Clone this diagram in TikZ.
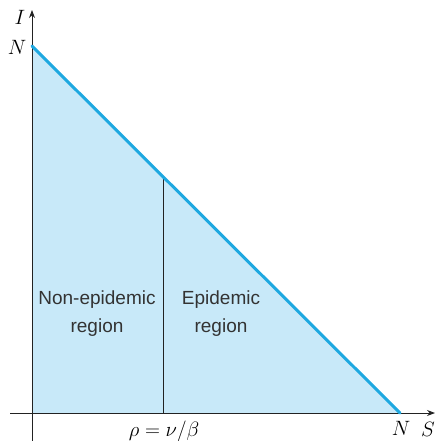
\documentclass[tikz,border=0pt]{standalone}
\usepackage{fontspec}
\setsansfont{Liberation Sans}
\usetikzlibrary{arrows.meta}
\definecolor{lineblue}{HTML}{1EA8E0}
\definecolor{fillblue}{HTML}{C8E9F9}
\definecolor{axisgray}{HTML}{222222}
\tikzset{
  axis/.style={draw=axisgray, line width=0.9pt, -{Stealth[length=8pt,width=6pt]}},
  hyp/.style={draw=lineblue, line width=3pt},
  divider/.style={draw=axisgray, line width=1pt},
  lab/.style={font=\fontsize{22}{26}\selectfont, inner sep=0pt},
  region/.style={font=\sffamily\fontsize{19}{28}\selectfont, align=center, text=black!80, inner sep=0pt}
}
\begin{document}
\begin{tikzpicture}[x=1pt,y=-1pt]
\useasboundingbox (0,0) rectangle (438,441);
\coordinate (top) at (32,46);
\coordinate (right) at (400,413);
\coordinate (orig) at (32,413);
\coordinate (divtop) at (163,177);
\coordinate (divbot) at (163,413);
\fill[fillblue] (top) -- (right) -- (orig) -- cycle;
\draw[divider] (divtop) -- (divbot);
\coordinate (ybot) at (32,441);
\coordinate (ytop) at (32,10);
\coordinate (xleft) at (10,413);
\coordinate (xright) at (435,413);
\draw[axis] (ybot) -- (ytop);
\draw[axis] (xleft) -- (xright);
\draw[hyp, line cap=round] (top) -- (right);
\node[lab] (Ilab) at (20,17) {$I$};
\node[lab] (Ny) at (17,47) {$N$};
\node[lab] (Nx) at (401,428) {$N$};
\node[lab] (Slab) at (428,429) {$S$};
\node[lab] (rho) at (164,431) {$\rho = \nu/\beta$};
\node[region] (nonep) at (97,314) {Non-epidemic\\region};
\node[region] (ep) at (221,314) {Epidemic\\region};
\end{tikzpicture}
\end{document}
